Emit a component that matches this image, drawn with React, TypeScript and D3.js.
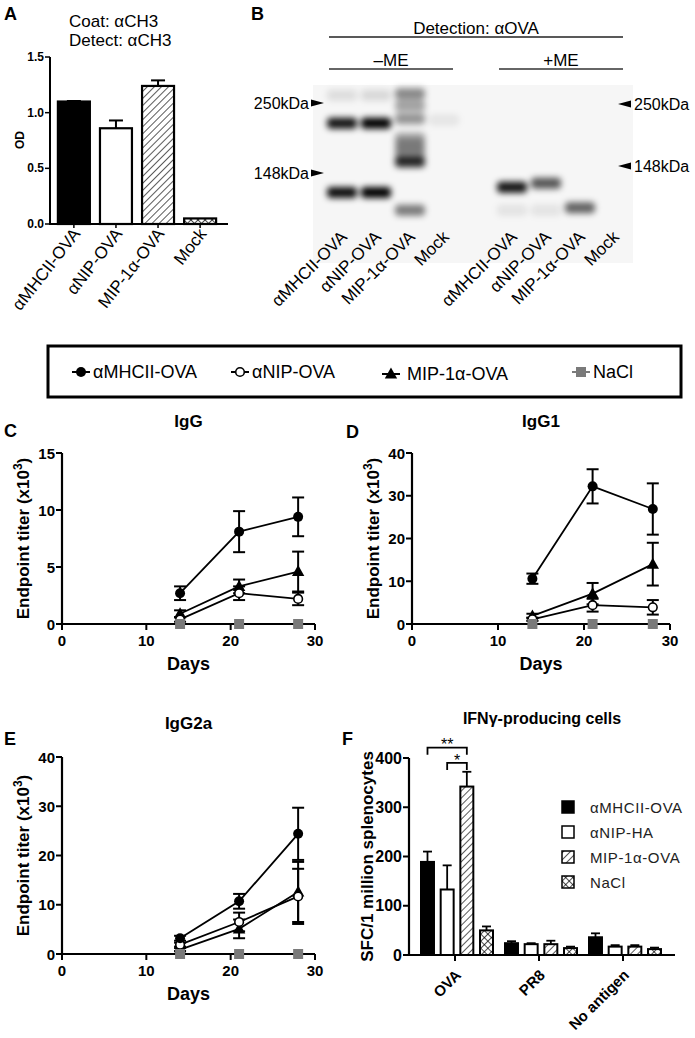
import * as d3 from "d3";
import * as React from "react";

const FONT = "Arial, 'Liberation Sans', Helvetica, sans-serif";

// ---- A: ELISA, coat/detect anti-CH3 ----
const odLabels = ["αMHCII-OVA", "αNIP-OVA", "MIP-1α-OVA", "Mock"];
const odMeans = [1.1, 0.86, 1.24, 0.05];
const odErrs = [0.005, 0.07, 0.05, 0];
const odTicks = [0, 0.5, 1.0, 1.5];

// ---- B: western blot, detection anti-OVA ----
const gelLaneLabels = ["αMHCII-OVA", "αNIP-OVA", "MIP-1α-OVA", "Mock", "αMHCII-OVA", "αNIP-OVA", "MIP-1α-OVA", "Mock"];
const gelLaneGroups = ["–ME", "–ME", "–ME", "–ME", "+ME", "+ME", "+ME", "+ME"];
const gelMarkers = [250, 148];
// [lane, apparent size kDa, darkness]
const gelBands: [number, number, number][] = [
  [0, 265, 0.1], [0, 215, 0.92], [0, 128, 0.95],
  [1, 265, 0.12], [1, 215, 1], [1, 128, 1],
  [2, 268, 0.45], [2, 245, 0.35], [2, 222, 0.4], [2, 192, 0.35], [2, 182, 0.4], [2, 172, 0.4], [2, 161, 0.85], [2, 112, 0.5],
  [3, 220, 0.07],
  [4, 133, 0.92], [4, 112, 0.08],
  [5, 137, 0.65], [5, 112, 0.08],
  [6, 114, 0.6],
];

// ---- C-E: endpoint titers (x10^3) ----
const days = [14, 21, 28];
const timeSeries = ["αMHCII-OVA", "αNIP-OVA", "MIP-1α-OVA", "NaCl"];
const dayTicks = [0, 10, 20, 30];

const iggMean = [[2.7, 8.1, 9.4], [0.4, 2.7, 2.2], [0.9, 3.3, 4.6], [0, 0, 0]];
const iggErr = [[0.6, 1.8, 1.7], [0.2, 0.6, 0.55], [0.3, 0.6, 1.75], [0, 0, 0]];
const iggTicks = [0, 5, 10, 15];

const igg1Mean = [[10.6, 32.2, 26.9], [1.1, 4.4, 3.9], [1.9, 7.1, 14], [0, 0, 0]];
const igg1Err = [[1.2, 4, 6], [0.4, 1.5, 1.7], [0.5, 2.5, 5], [0, 0, 0]];
const igg1Ticks = [0, 10, 20, 30, 40];

const igg2aMean = [[3.2, 10.7, 24.4], [1.9, 6.5, 11.7], [0.9, 5.1, 12.6], [0, 0, 0]];
const igg2aErr = [[0.5, 1.5, 5.3], [0.4, 1.9, 5.6], [0.3, 1.9, 6.1], [0, 0, 0]];
const igg2aTicks = [0, 10, 20, 30, 40];

// ---- F: IFNγ ELISpot ----
const spotGroups = ["OVA", "PR8", "No antigen"];
const spotSeries = ["αMHCII-OVA", "αNIP-HA", "MIP-1α-OVA", "NaCl"];
const spotMean = [[189, 24, 36], [133, 22, 17], [342, 22, 17], [50, 14, 12]];
const spotErr = [[21, 4, 8], [49, 2, 3], [30, 7, 3], [8, 3, 3]];
const spotTicks = [0, 100, 200, 300, 400];
// [from, to, label, bracket level]
const spotSig: [string, string, string, number][] = [
  ["αMHCII-OVA", "MIP-1α-OVA", "**", 421],
  ["αNIP-HA", "MIP-1α-OVA", "*", 390],
];

const barFills = ["black", "white", "url(#hatch)", "url(#cross)"];

function Defs() {
  return (
    <defs>
      <pattern id="hatch" width={5} height={5} patternUnits="userSpaceOnUse" patternTransform="rotate(45)">
        <rect width={5} height={5} fill="white" />
        <line x1={0} y1={0} x2={0} y2={5} stroke="black" strokeWidth={1.3} />
      </pattern>
      <pattern id="cross" width={5} height={5} patternUnits="userSpaceOnUse" patternTransform="rotate(45)">
        <rect width={5} height={5} fill="white" />
        <line x1={0} y1={0} x2={0} y2={5} stroke="black" strokeWidth={1.4} />
        <line x1={0} y1={0} x2={5} y2={0} stroke="black" strokeWidth={1.4} />
      </pattern>
      <filter id="band-blur" x="-50%" y="-200%" width="200%" height="500%" filterUnits="objectBoundingBox">
        <feGaussianBlur in="SourceGraphic" stdDeviation="3.2" />
      </filter>
    </defs>
  );
}

function PanelA() {
  const y = d3.scaleLinear().domain([0, 1.5]).range([224, 57]);
  const x = d3.scaleBand<string>().domain(odLabels).range([52, 222]).paddingInner(0.24).paddingOuter(0.14);
  const bw = x.bandwidth();
  const fmt = d3.format(".1f");
  return (
    <g>
      <text x={4} y={20} fontSize={18} fontWeight="bold">A</text>
      <text x={69} y={27} fontSize={17}>Coat: αCH3</text>
      <text x={69} y={46} fontSize={17}>Detect: αCH3</text>
      {odLabels.map((c, i) => {
        const cx = x(c)! + bw / 2;
        const top = y(odMeans[i]);
        const et = y(odMeans[i] + odErrs[i]);
        return (
          <g key={c}>
            {odErrs[i] > 0 && (
              <g stroke="black" strokeWidth={2}>
                <line x1={cx} x2={cx} y1={top} y2={et} />
                <line x1={cx - 7} x2={cx + 7} y1={et} y2={et} />
              </g>
            )}
            <rect x={x(c)} y={top} width={bw} height={y(0) - top} fill={barFills[i]} stroke="black" strokeWidth={2.2} />
            <line x1={cx} x2={cx} y1={y(0)} y2={y(0) + 4} stroke="black" strokeWidth={1.5} />
            <text transform={`translate(${cx + 7},${234}) rotate(-52)`} textAnchor="end" fontSize={17}>{c}</text>
          </g>
        );
      })}
      <line x1={50} x2={50} y1={y(1.5)} y2={y(0)} stroke="black" strokeWidth={2} />
      <line x1={49} x2={228} y1={y(0)} y2={y(0)} stroke="black" strokeWidth={2} />
      {odTicks.map(t => (
        <g key={t}>
          <line x1={45} x2={50} y1={y(t)} y2={y(t)} stroke="black" strokeWidth={1.5} />
          <text x={44} y={y(t) + 4} textAnchor="end" fontSize={12} fontWeight="bold">{fmt(t)}</text>
        </g>
      ))}
      <text transform="translate(24,140) rotate(-90)" textAnchor="middle" fontSize={12} fontWeight="bold">OD</text>
    </g>
  );
}

function PanelB() {
  const slots = ["0", "1", "2", "3", "gap", "4", "5", "6", "7"];
  const xs = d3.scalePoint<string>().domain(slots).range([342, 614]);
  const laneX = (i: number) => xs(String(i))!;
  const y = d3.scaleLog().domain([250, 148]).range([103, 173]);
  const yRight = d3.scaleLog().domain([250, 148]).range([104, 166]);
  const laneW = 30;
  const groups = Array.from(new Set(gelLaneGroups));
  const groupSpan = (g: string) => {
    const idx = gelLaneGroups.map((v, i) => (v === g ? i : -1)).filter(i => i >= 0);
    return [laneX(idx[0]) - 13, laneX(idx[idx.length - 1]) + 9];
  };
  const all = [laneX(0) - 13, laneX(gelLaneLabels.length - 1) + 9];
  return (
    <g>
      <text x={251} y={20} fontSize={18} fontWeight="bold">B</text>
      <text x={(all[0] + all[1]) / 2} y={34} textAnchor="middle" fontSize={17}>Detection: αOVA</text>
      <line x1={all[0]} x2={all[1]} y1={37} y2={37} stroke="#222" strokeWidth={1.5} />
      {groups.map(g => {
        const [a, b] = groupSpan(g);
        return (
          <g key={g}>
            <text x={(a + b) / 2} y={66} textAnchor="middle" fontSize={17}>{g}</text>
            <line x1={a} x2={b} y1={69} y2={69} stroke="#333" strokeWidth={1.5} />
          </g>
        );
      })}
      <rect x={313} y={85} width={320} height={178} fill="#f6f6f6" />
      <g filter="url(#band-blur)">
        {gelBands.map(([lane, kda, dark], i) => (
          <rect key={i} x={laneX(lane) - laneW / 2} y={y(kda) - 5.5} width={laneW} height={11} rx={4}
            fill="black" fillOpacity={dark} />
        ))}
      </g>
      {gelMarkers.map(m => (
        <g key={m}>
          <text x={309} y={y(m) + 6} textAnchor="end" fontSize={16}>{m}kDa</text>
          <path d={`M311,${y(m) - 3.5}L324,${y(m)}L311,${y(m) + 3.5}Z`} fill="black" />
          <path d={`M631,${yRight(m) - 3.5}L618,${yRight(m)}L631,${yRight(m) + 3.5}Z`} fill="black" />
          <text x={634} y={yRight(m) + 6} fontSize={16}>{m}kDa</text>
        </g>
      ))}
      {gelLaneLabels.map((l, i) => (
        <text key={i} transform={`translate(${laneX(i) + 6},238) rotate(-45)`} textAnchor="end" fontSize={17}>{l}</text>
      ))}
    </g>
  );
}

function Marker({ kind, cx, cy }: { kind: number; cx: number; cy: number }) {
  if (kind === 0) return <circle cx={cx} cy={cy} r={5} fill="black" />;
  if (kind === 1) return <circle cx={cx} cy={cy} r={4.3} fill="white" stroke="black" strokeWidth={1.6} />;
  if (kind === 2) return <path d={`M${cx},${cy - 6.5}L${cx + 6.2},${cy + 4.5}L${cx - 6.2},${cy + 4.5}Z`} fill="black" />;
  return <rect x={cx - 5} y={cy - 5} width={10} height={10} fill="#7a7a7a" />;
}

function Legend() {
  const legendX = [81, 240, 391, 581];
  const cy = 372;
  return (
    <g>
      <rect x={48} y={346} width={633} height={51} fill="white" stroke="black" strokeWidth={3} />
      {timeSeries.map((s, i) => (
        <g key={s}>
          <line x1={legendX[i] - 9} x2={legendX[i] + 9} y1={cy + (i === 2 ? 2 : 0)} y2={cy + (i === 2 ? 2 : 0)}
            stroke={i === 3 ? "#7a7a7a" : "black"} strokeWidth={2} />
          <Marker kind={i} cx={legendX[i]} cy={cy + (i === 2 ? 2 : 0)} />
          <text x={legendX[i] + (i === 2 ? 16 : 12)} y={cy + 6 + (i === 2 ? 2 : 0)} fontSize={18}>{s}</text>
        </g>
      ))}
    </g>
  );
}

type TimeProps = {
  letter: string; letterX: number; letterY: number;
  title: string; titleY: number;
  left: number; right: number; top: number; bottom: number;
  yTicks: number[]; means: number[][]; errs: number[][];
};

function TimePanel(p: TimeProps) {
  const x = d3.scaleLinear().domain([0, 30]).range([p.left, p.right]);
  const y = d3.scaleLinear().domain([0, d3.max(p.yTicks)!]).range([p.bottom, p.top]);
  const line = d3.line<number>().x((_, i) => x(days[i])).y(d => y(d));
  const order = [2, 1, 0];
  return (
    <g>
      <text x={p.letterX} y={p.letterY} fontSize={18} fontWeight="bold">{p.letter}</text>
      <text x={(p.left + p.right) / 2} y={p.titleY} textAnchor="middle" fontSize={17} fontWeight="bold">{p.title}</text>
      <path d={line(p.means[3])!} fill="none" stroke="#7a7a7a" strokeWidth={1.8} />
      <line x1={p.left} x2={p.left} y1={p.top} y2={p.bottom} stroke="black" strokeWidth={2.2} />
      <line x1={p.left - 1} x2={p.right} y1={p.bottom} y2={p.bottom} stroke="black" strokeWidth={2.2} />
      {p.yTicks.map(t => (
        <g key={t}>
          <line x1={p.left - 6} x2={p.left} y1={y(t)} y2={y(t)} stroke="black" strokeWidth={2} />
          <text x={p.left - 7} y={y(t) + 5.5} textAnchor="end" fontSize={15} fontWeight="bold">{t}</text>
        </g>
      ))}
      {dayTicks.map(t => (
        <g key={t}>
          <line x1={x(t)} x2={x(t)} y1={p.bottom} y2={p.bottom + 6} stroke="black" strokeWidth={2} />
          <text x={x(t)} y={p.bottom + 22} textAnchor="middle" fontSize={15} fontWeight="bold">{t}</text>
        </g>
      ))}
      <text x={(p.left + p.right) / 2} y={p.bottom + 46} textAnchor="middle" fontSize={18} fontWeight="bold">Days</text>
      <text transform={`translate(${p.left - 33},${(p.top + p.bottom) / 2}) rotate(-90)`} textAnchor="middle" fontSize={17} fontWeight="bold">
        Endpoint titer (x10<tspan dy={-7} fontSize={12}>3</tspan><tspan dy={7}>)</tspan>
      </text>
      {order.map(s => (
        <g key={s}>
          <path d={line(p.means[s])!} fill="none" stroke="black" strokeWidth={1.8} />
          {p.means[s].map((m, i) => {
            const e = p.errs[s][i];
            const cx = x(days[i]);
            return (
              <g key={i} stroke="black" strokeWidth={2}>
                <line x1={cx} x2={cx} y1={y(m - e)} y2={y(m + e)} />
                <line x1={cx - 6} x2={cx + 6} y1={y(m - e)} y2={y(m - e)} />
                <line x1={cx - 6} x2={cx + 6} y1={y(m + e)} y2={y(m + e)} />
              </g>
            );
          })}
        </g>
      ))}
      {[...order, 3].map(s => p.means[s].map((m, i) => (
        <Marker key={`${s}-${i}`} kind={s} cx={x(days[i])} cy={y(m)} />
      )))}
    </g>
  );
}

function PanelF() {
  const y = d3.scaleLinear().domain([0, 400]).range([955, 758]);
  const x0 = d3.scaleBand<string>().domain(spotGroups).range([413, 665]);
  const x1 = d3.scaleBand<string>().domain(spotSeries).range([8, 80]).paddingInner(0.34);
  const bw = x1.bandwidth();
  const left = 409, right = 675;
  const center = (g: string, s: string) => x0(g)! + x1(s)! + bw / 2;
  return (
    <g>
      <text x={342} y={745} fontSize={18} fontWeight="bold">F</text>
      <text x={(left + right) / 2} y={724} textAnchor="middle" fontSize={16} fontWeight="bold">IFNγ-producing cells</text>
      {spotSeries.map((s, si) => spotGroups.map((g, gi) => {
        const m = spotMean[si][gi];
        const e = spotErr[si][gi];
        const cx = center(g, s);
        return (
          <g key={`${s}-${g}`}>
            <g stroke="black" strokeWidth={1.8}>
              <line x1={cx} x2={cx} y1={y(m)} y2={y(m + e)} />
              <line x1={cx - 4.5} x2={cx + 4.5} y1={y(m + e)} y2={y(m + e)} />
            </g>
            <rect x={x0(g)! + x1(s)!} y={y(m)} width={bw} height={y(0) - y(m)} fill={barFills[si]} stroke="black" strokeWidth={2} />
          </g>
        );
      }))}
      {spotSig.map(([a, b, lab, lev]) => {
        const xa = center("OVA", a), xb = center("OVA", b), yy = y(lev);
        return (
          <g key={lab}>
            <path d={`M${xa},${yy + 7}V${yy}H${xb}V${yy + 7}`} fill="none" stroke="black" strokeWidth={1.8} />
            <text x={(xa + xb) / 2} y={yy + (lab === "*" ? 3.5 : 2)} textAnchor="middle" fontSize={16}>{lab}</text>
          </g>
        );
      })}
      <line x1={left} x2={left} y1={y(400)} y2={y(0)} stroke="black" strokeWidth={2.2} />
      <line x1={left - 1} x2={right} y1={y(0)} y2={y(0)} stroke="black" strokeWidth={2.2} />
      {spotTicks.map(t => (
        <g key={t}>
          <line x1={left - 6} x2={left} y1={y(t)} y2={y(t)} stroke="black" strokeWidth={2} />
          <text x={left - 7} y={y(t) + 5.5} textAnchor="end" fontSize={16} fontWeight="bold">{t}</text>
        </g>
      ))}
      {spotGroups.map(g => {
        const cx = x0(g)! + x0.bandwidth() / 2;
        return (
          <g key={g}>
            <line x1={cx} x2={cx} y1={y(0)} y2={y(0) + 6} stroke="black" strokeWidth={2} />
            <text transform={`translate(${cx + 7},${y(0) + 21}) rotate(-45)`} textAnchor="end" fontSize={15} fontWeight="bold">{g}</text>
          </g>
        );
      })}
      <text transform={`translate(${left - 36},${(y(0) + y(400)) / 2}) rotate(-90)`} textAnchor="middle" fontSize={17} fontWeight="bold">
        SFC/1 million splenocytes
      </text>
      {spotSeries.map((s, i) => (
        <g key={s}>
          <rect x={562} y={801 + i * 25} width={12} height={12} fill={barFills[i]} stroke="black" strokeWidth={1.5} />
          <text x={590} y={812.5 + i * 25} fontSize={15} letterSpacing={0.6} fill="#222">{s}</text>
        </g>
      ))}
    </g>
  );
}

export default function App() {
  return (
    <div style={{ position: "absolute", left: 0, top: 0 }}>
      <svg width={695} height={1038} style={{ display: "block", background: "white", fontFamily: FONT }}>
        <Defs />
        <PanelA />
        <PanelB />
        <Legend />
        <TimePanel letter="C" letterX={4} letterY={437} title="IgG" titleY={427}
          left={62} right={315} top={453} bottom={624} yTicks={iggTicks} means={iggMean} errs={iggErr} />
        <TimePanel letter="D" letterX={346} letterY={438} title="IgG1" titleY={427}
          left={412} right={670} top={453} bottom={624} yTicks={igg1Ticks} means={igg1Mean} errs={igg1Err} />
        <TimePanel letter="E" letterX={4} letterY={745} title="IgG2a" titleY={729}
          left={62} right={315} top={757} bottom={954} yTicks={igg2aTicks} means={igg2aMean} errs={igg2aErr} />
        <PanelF />
      </svg>
    </div>
  );
}
